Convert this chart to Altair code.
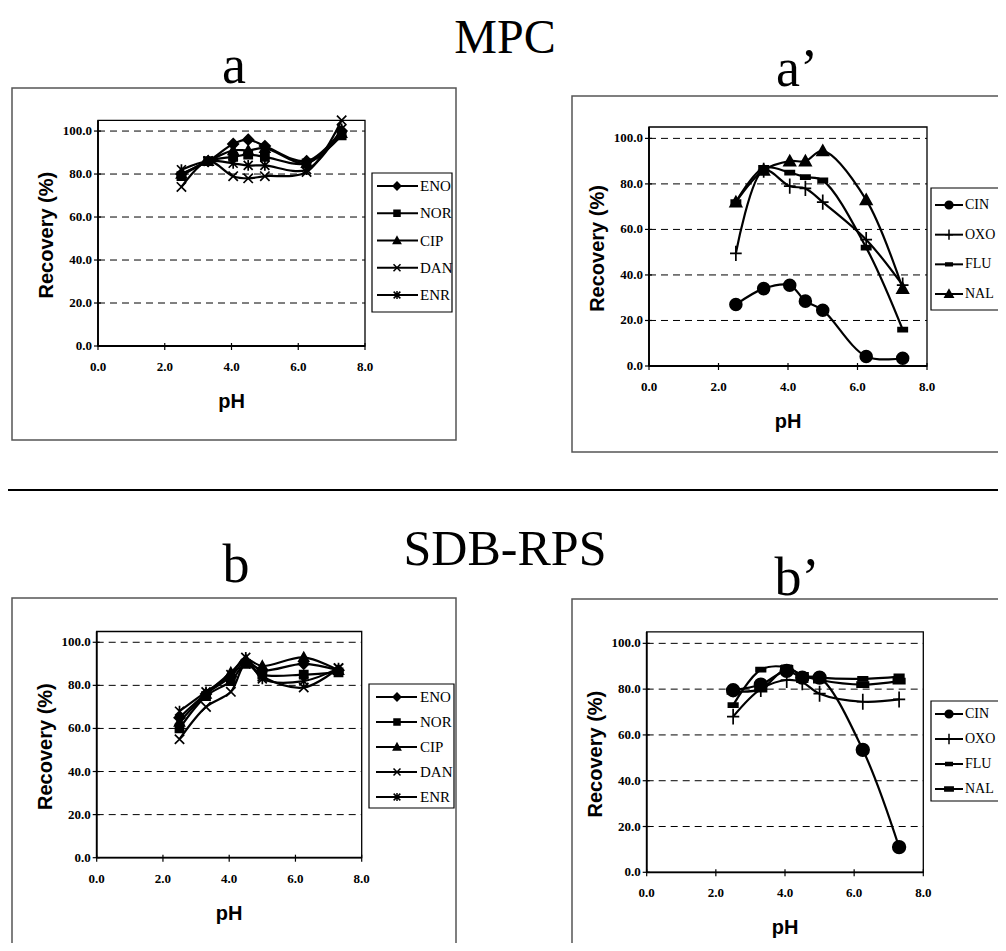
import altair as alt
import pandas as pd

# ---------------- data ----------------
PH = [2.5, 3.3, 4.05, 4.5, 5.0, 6.25, 7.3]

GROUP1 = ["ENO", "NOR", "CIP", "DAN", "ENR"]
GROUP2 = ["CIN", "OXO", "FLU", "NAL"]

# MPC (a)
MPC_ENO = [80, 86, 94, 96, 93, 86, 100]
MPC_NOR = [79, 86, 88, 89, 88, 85, 98]
MPC_CIP = [80, 86, 91, 91, 92, 85, 99]
MPC_DAN = [74, 86, 79, 78, 79, 81, 105]
MPC_ENR = [82, 86, 85, 84, 84, 82, 101]

# MPC (a')
MPC_CIN = [27, 34, 35.5, 28.5, 24.5, 4.2, 3.4]
MPC_OXO = [49.5, 86, 79, 78, 72, 55.5, 35.5]
MPC_FLU = [72, 87, 85, 83, 81.5, 52, 16]
MPC_NAL = [72, 86, 90, 90, 94.5, 73, 34]

# SDB-RPS (b)
SDB_ENO = [65, 76, 84, 91, 87, 90, 87]
SDB_NOR = [60, 75, 82, 90, 85, 85, 86]
SDB_CIP = [63, 76, 86, 92, 89, 93, 87]
SDB_DAN = [55, 70, 77, 90, 84, 79, 88]
SDB_ENR = [68, 77, 85, 93, 83, 82, 88]

# SDB-RPS (b')
SDB_CIN = [79.5, 82, 88, 85, 85, 53.5, 11]
SDB_OXO = [68, 80, 84, 83, 78, 74.5, 75.5]
SDB_FLU = [73, 88.5, 89.5, 86, 85, 84.5, 85.5]
SDB_NAL = [79, 80, 89, 86, 84, 82, 83.5]

Y_TICKS = [0, 20, 40, 60, 80, 100]
X_TICKS = [0, 2, 4, 6, 8]
Y_MAX = 105


def long_df(names, arrays):
    rows = []
    for n, arr in zip(names, arrays):
        for x, v in zip(PH, arr):
            rows.append({"pH": x, "value": v, "series": n})
    return pd.DataFrame(rows)


# ---------------- marker shapes ----------------
P_DIAMOND = "M0,-1L1,0L0,1L-1,0Z"
P_SQUARE = "M-0.8,-0.8H0.8V0.8H-0.8Z"
P_TRI = "M0,-1L1,0.8H-1Z"
P_X = "M-1,-1L1,1M-1,1L1,-1"
P_AST = "M-1,-1L1,1M-1,1L1,-1M0,-1.2V1.2"
P_CIRCLE = "circle"
P_PLUS = "M-1,0H1M0,-1.3V1.3"
P_DASH = "M-0.8,-0.35H0.8V0.35H-0.8Z"
P_BAR = "M-1,-0.45H1V0.45H-1Z"

SERIF = "Liberation Serif"
SANS = "Liberation Sans"
ONE = pd.DataFrame({"k": [0]})


def panel(df, names, shapes, sizes, leg_sizes, g):
    X0, X1, YB, YT = g["plot"]
    xs = alt.Scale(domain=[0, 8], range=[X0, X1], nice=False, zero=False)
    ys = alt.Scale(domain=[0, Y_MAX], range=[YB, YT], nice=False, zero=False)
    fl, fr, ft, fb = g["frame"]
    layers = []
    # outer chart frame
    layers.append(alt.Chart(ONE).mark_rect(fill="transparent", stroke="#555",
                                           strokeWidth=1.5).encode(
        x=alt.value(fl), x2=alt.value(fr), y=alt.value(ft), y2=alt.value(fb)))
    ydf = pd.DataFrame({"t": Y_TICKS})
    xdf = pd.DataFrame({"t": X_TICKS})
    # dashed gridlines
    layers.append(alt.Chart(pd.DataFrame({"t": Y_TICKS[1:]})).mark_rule(
        color="black", strokeDash=[7, 5], strokeWidth=1).encode(
        y=alt.Y("t:Q", scale=ys, axis=None), x=alt.value(X0), x2=alt.value(X1)))
    # plot border
    layers.append(alt.Chart(ONE).mark_rect(fill="transparent", stroke="black",
                                           strokeWidth=1.3).encode(
        x=alt.value(X0), x2=alt.value(X1), y=alt.value(YT), y2=alt.value(YB)))
    # axis lines
    layers.append(alt.Chart(ONE).mark_rule(color="black", strokeWidth=1.8).encode(
        x=alt.value(X0), x2=alt.value(X1), y=alt.value(YB)))
    layers.append(alt.Chart(ONE).mark_rule(color="black", strokeWidth=1.8).encode(
        y=alt.value(YT), y2=alt.value(YB), x=alt.value(X0)))
    # y ticks and labels
    layers.append(alt.Chart(ydf).mark_rule(color="black", strokeWidth=1.2).encode(
        y=alt.Y("t:Q", scale=ys, axis=None), x=alt.value(X0 - 4), x2=alt.value(X0 + 3)))
    layers.append(alt.Chart(ydf).mark_text(align="right", baseline="middle", font=SERIF,
                                           fontSize=13, fontWeight="bold",
                                           color="black").encode(
        y=alt.Y("t:Q", scale=ys, axis=None), x=alt.value(X0 - 6),
        text=alt.Text("t:Q", format=".1f")))
    # x ticks and labels
    layers.append(alt.Chart(xdf).mark_rule(color="black", strokeWidth=1.2).encode(
        x=alt.X("t:Q", scale=xs, axis=None), y=alt.value(YB - 3), y2=alt.value(YB + 4)))
    layers.append(alt.Chart(xdf).mark_text(align="center", baseline="middle", font=SERIF,
                                           fontSize=13, fontWeight="bold",
                                           color="black").encode(
        x=alt.X("t:Q", scale=xs, axis=None), y=alt.value(YB + 21),
        text=alt.Text("t:Q", format=".1f")))
    # axis titles
    layers.append(alt.Chart(ONE).mark_text(text="pH", font=SANS, fontSize=20,
                                           fontWeight="bold", align="center",
                                           baseline="middle", color="black").encode(
        x=alt.value((X0 + X1) / 2), y=alt.value(YB + 56)))
    layers.append(alt.Chart(ONE).mark_text(text="Recovery (%)", font=SANS, fontSize=20,
                                           fontWeight="bold", align="center",
                                           baseline="middle", angle=270,
                                           color="black").encode(
        x=alt.value(X0 - 51), y=alt.value((YB + YT) / 2 + 2)))
    # data lines and markers
    xe = alt.X("pH:Q", scale=xs, axis=None)
    ye = alt.Y("value:Q", scale=ys, axis=None)
    layers.append(alt.Chart(df).mark_line(interpolate="catmull-rom", color="black",
                                          strokeWidth=2.2).encode(
        x=xe, y=ye, detail="series:N"))
    layers.append(alt.Chart(df).mark_point(filled=True, color="black", stroke="black",
                                           strokeWidth=1.7, opacity=1).encode(
        x=xe, y=ye,
        shape=alt.Shape("series:N", scale=alt.Scale(domain=names, range=shapes),
                        legend=None),
        size=alt.Size("series:N", scale=alt.Scale(domain=names, range=sizes),
                      legend=None)))
    # legend (drawn from the series names)
    bl, bt, br, bb = g["legend_box"]
    r0, r1 = g["legend_rows"]
    lx1, lx2, lm, lt = g["legend_x"]
    ldf = pd.DataFrame({"series": names})
    ly = alt.Y("series:N", scale=alt.Scale(type="point", domain=names, range=[r0, r1],
                                           padding=0), axis=None)
    layers.append(alt.Chart(ONE).mark_rect(fill="white", stroke="black",
                                           strokeWidth=1.2).encode(
        x=alt.value(bl), x2=alt.value(br), y=alt.value(bt), y2=alt.value(bb)))
    layers.append(alt.Chart(ldf).mark_rule(color="black", strokeWidth=2).encode(
        y=ly, x=alt.value(lx1), x2=alt.value(lx2)))
    layers.append(alt.Chart(ldf).mark_point(filled=True, color="black", stroke="black",
                                            strokeWidth=1.5, opacity=1).encode(
        y=ly, x=alt.value(lm),
        shape=alt.Shape("series:N", scale=alt.Scale(domain=names, range=shapes),
                        legend=None),
        size=alt.Size("series:N", scale=alt.Scale(domain=names, range=leg_sizes),
                      legend=None)))
    layers.append(alt.Chart(ldf).mark_text(align="left", baseline="middle", font=SERIF,
                                           fontSize=g["legend_font"],
                                           color="black").encode(
        y=ly, x=alt.value(lt), text="series:N"))
    return layers


df_a = long_df(GROUP1, [MPC_ENO, MPC_NOR, MPC_CIP, MPC_DAN, MPC_ENR])
df_a2 = long_df(GROUP2, [MPC_CIN, MPC_OXO, MPC_FLU, MPC_NAL])
df_b = long_df(GROUP1, [SDB_ENO, SDB_NOR, SDB_CIP, SDB_DAN, SDB_ENR])
df_b2 = long_df(GROUP2, [SDB_CIN, SDB_OXO, SDB_FLU, SDB_NAL])

G_A = {"plot": (90, 357, 338, 112.3), "frame": (4, 448, 80, 432),
       "legend_box": (364, 165, 444, 304), "legend_rows": (178, 287),
       "legend_x": (369, 410, 389, 412), "legend_font": 15}
G_A2 = {"plot": (641, 919, 358, 119), "frame": (564, 1004, 88, 444),
        "legend_box": (923, 180, 1004, 302), "legend_rows": (197, 286),
        "legend_x": (927, 955, 941, 957), "legend_font": 14}
G_B = {"plot": (88.7, 353.7, 849.7, 623.5), "frame": (4, 448, 590, 945),
       "legend_box": (361, 676, 446, 800), "legend_rows": (689, 789),
       "legend_x": (368, 409, 389, 412), "legend_font": 15}
G_B2 = {"plot": (638.7, 915.3, 864.3, 623.9), "frame": (564, 1004, 591, 945),
        "legend_box": (923, 693, 1004, 793), "legend_rows": (706, 781),
        "legend_x": (927, 955, 941, 957), "legend_font": 14}

g1_shapes = [P_DIAMOND, P_SQUARE, P_TRI, P_X, P_AST]
layers = []
layers += panel(df_a, GROUP1, g1_shapes, [110, 80, 110, 130, 130],
                [60, 45, 60, 60, 60], G_A)
layers += panel(df_a2, GROUP2, [P_CIRCLE, P_PLUS, P_DASH, P_TRI], [140, 130, 90, 170],
                [60, 70, 45, 60], G_A2)
layers += panel(df_b, GROUP1, g1_shapes, [110, 80, 110, 130, 130],
                [60, 45, 60, 60, 60], G_B)
layers += panel(df_b2, GROUP2, [P_CIRCLE, P_PLUS, P_DASH, P_BAR], [160, 130, 90, 90],
                [60, 70, 45, 50], G_B2)


def txt(s, x, y, size):
    return alt.Chart(ONE).mark_text(text=s, font=SERIF, fontSize=size, align="center",
                                    baseline="alphabetic", color="black").encode(
        x=alt.value(x), y=alt.value(y))


layers += [
    txt("MPC", 497, 45, 48), txt("a", 226, 75, 54), txt("a\u2019", 789, 78, 54),
    alt.Chart(ONE).mark_rule(color="black", strokeWidth=2).encode(
        x=alt.value(0), x2=alt.value(990), y=alt.value(482)),
    txt("SDB-RPS", 497, 557, 50), txt("b", 228, 574, 54), txt("b\u2019", 789, 587, 54),
]

chart = alt.layer(*layers).resolve_scale(
    x="independent", y="independent", shape="independent", size="independent"
).properties(
    width=990, height=935, padding=0, autosize=alt.AutoSizeParams(type="none")
).configure_view(stroke="transparent")

chart.save("out.html", embed_options={"renderer": "svg", "actions": False})
